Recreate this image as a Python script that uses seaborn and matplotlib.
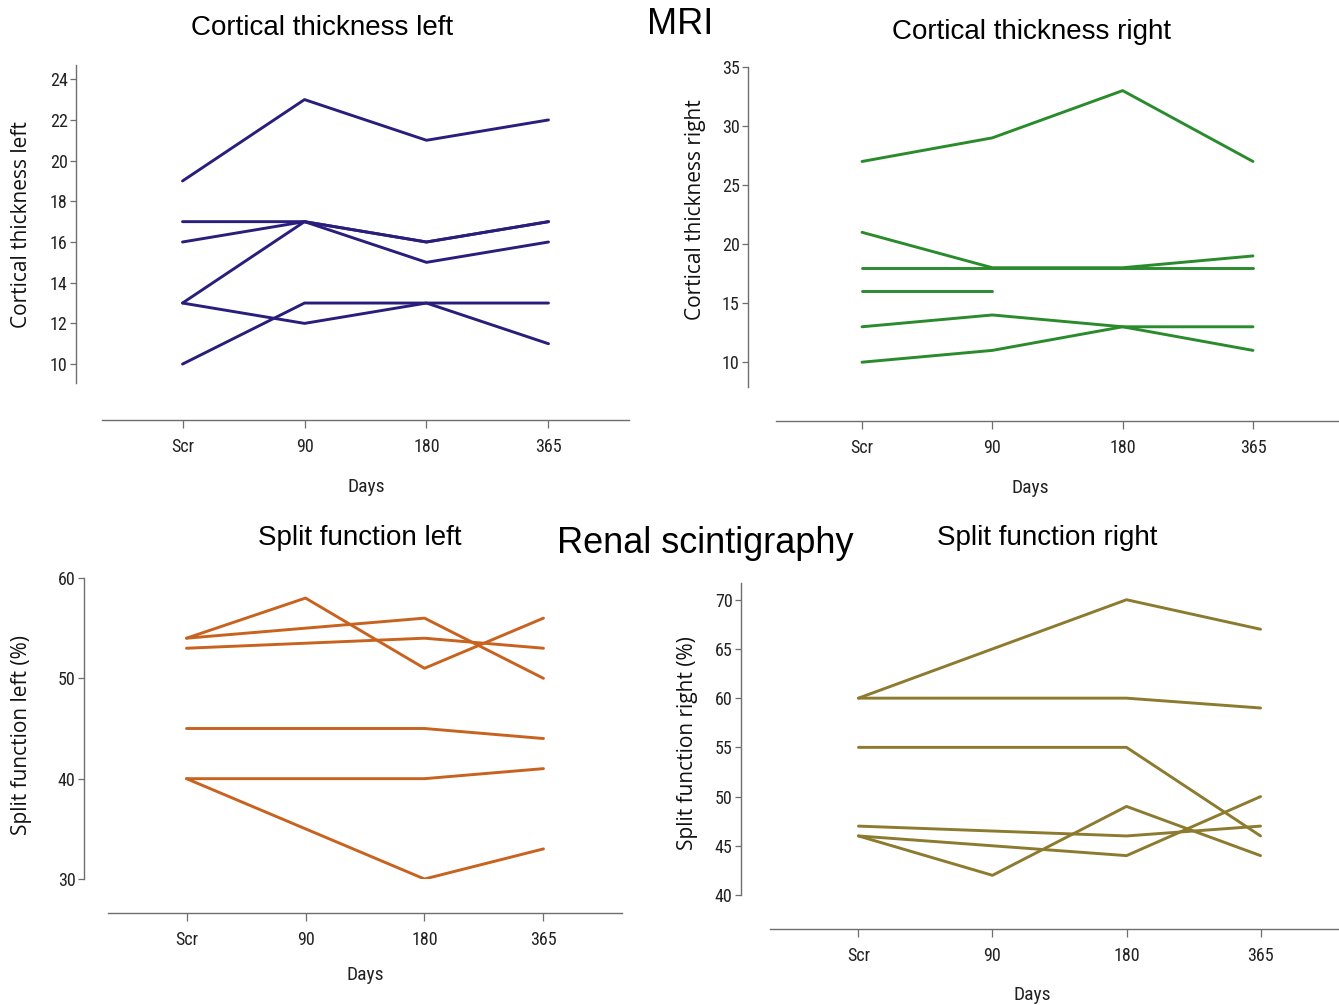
import numpy as np
import pandas as pd
import matplotlib
matplotlib.use('Agg')
import matplotlib.pyplot as plt
import seaborn as sns

sns.set_style('ticks')
plt.rcParams['font.family'] = ['Liberation Sans', 'DejaVu Sans']
plt.rcParams['text.color'] = 'black'

# ---- data (one row per patient) ----
days = ['Scr', '90', '180', '365']

cort_left = [
    [19, 23, 21, 22],
    [17, 17, 16, 17],
    [16, 17, 15, 16],
    [13, 17, 16, 17],
    [13, 12, 13, 11],
    [10, 13, 13, 13],
]
cort_right = [
    [27, 29, 33, 27],
    [21, 18, 18, 19],
    [18, 18, 18, 18],
    [16, 16, np.nan, np.nan],
    [13, 14, 13, 11],
    [10, 11, 13, 13],
]
split_left = [
    [54, 58, 51, 56],
    [54, 55, 56, 50],
    [53, 53.5, 54, 53],
    [45, 45, 45, 44],
    [40, 40, 40, 41],
    [40, 35, 30, 33],
]
split_right = [
    [60, 65, 70, 67],
    [60, 60, 60, 59],
    [55, 55, 55, 46],
    [47, 46.5, 46, 47],
    [46, 45, 44, 50],
    [46, 42, 49, 44],
]


def to_long(rows):
    recs = []
    for pid, row in enumerate(rows):
        for i, v in enumerate(row):
            recs.append({'patient': pid, 'day': i, 'value': v})
    return pd.DataFrame(recs).dropna()


W, H = 1339, 1005
fig = plt.figure(figsize=(W / 100, H / 100), dpi=100)
px = 72 / 100  # pixels -> points


def make_axes(x0, x1, ytop, ybot):
    return fig.add_axes([x0 / W, 1 - ybot / H, (x1 - x0) / W, (ybot - ytop) / H])


# narrow face for ticks / "Days" (first installed one is used)
tick_font = ['Liberation Sans Narrow', 'DejaVu Sans Condensed', 'Roboto Condensed', 'DejaVu Sans']

panels = [
    # data, colour, axes box px, ylim, yticks, left/bottom spine offset px
    (cort_left, '#2a1e7c', (102, 629, 65, 383), (9.07, 24.7), range(10, 25, 2), (26, 37)),
    (cort_right, '#2a8b2c', (776, 1339, 67, 387), (7.9, 35), range(10, 36, 5), (28, 34)),
    (split_left, '#c8621f', (108, 622, 578, 879), (30, 60), range(30, 61, 10), (24, 34)),
    (split_right, '#8c7b2f', (770, 1349, 583, 895), (40, 71.7), range(40, 71, 5), (29, 34)),
]

for data, col, box, ylim, yt, off in panels:
    ax = make_axes(*box)
    df = to_long(data)
    sns.lineplot(data=df, x='day', y='value', units='patient', estimator=None,
                 color=col, lw=2.1, ax=ax, legend=False)
    ax.set_xlim(-0.66, 3.66)
    ax.set_ylim(*ylim)
    ax.set_xticks(range(len(days)))
    ax.set_xticklabels(days)
    ax.set_yticks(list(yt))
    ax.set_xlabel('')
    ax.set_ylabel('')
    sns.despine(ax=ax)
    ax.spines['left'].set_position(('outward', off[0] * px))
    ax.spines['bottom'].set_position(('outward', off[1] * px))
    for s in ('left', 'bottom'):
        ax.spines[s].set_color('#6e6e6e')
        ax.spines[s].set_linewidth(1.0)
    ax.tick_params(axis='y', length=4.5, width=0.9, color='#6e6e6e', pad=1.5)
    ax.tick_params(axis='x', length=6, width=0.9, color='#6e6e6e', pad=7)
    for lab in ax.get_xticklabels() + ax.get_yticklabels():
        lab.set_family(tick_font)
        lab.set_fontsize(13)
        lab.set_color('#222222')

# y axis labels
ylabels = [('Cortical thickness left', 22, 225), ('Cortical thickness right', 695, 210),
           ('Split function left (%)', 22, 735), ('Split function right (%)', 688, 743)]
for txt, x, y in ylabels:
    fig.text(x / W, 1 - y / H, txt, rotation=90, ha='center', va='center',
             family=['Open Sans', 'DejaVu Sans'], fontsize=15, color='#111111')

# x axis labels
for x, y in [(366, 487), (1030, 488), (365, 975), (1032, 995)]:
    fig.text(x / W, 1 - y / H, 'Days', ha='center', va='center',
             family=tick_font, fontsize=14, color='#222222')

# panel titles
titles = [('Cortical thickness left', 322, 28), ('Cortical thickness right', 1031, 32),
          ('Split function left', 360, 538), ('Split function right', 1047, 538)]
for txt, x, y in titles:
    fig.text(x / W, 1 - y / H, txt, ha='center', va='center', fontsize=20, color='black')

fig.text(680 / W, 1 - 24 / H, 'MRI', ha='center', va='center', fontsize=26, color='black')
fig.text(705 / W, 1 - 543 / H, 'Renal scintigraphy', ha='center', va='center',
         fontsize=26, color='black')

fig.savefig('out.png', dpi=100, facecolor='white')
